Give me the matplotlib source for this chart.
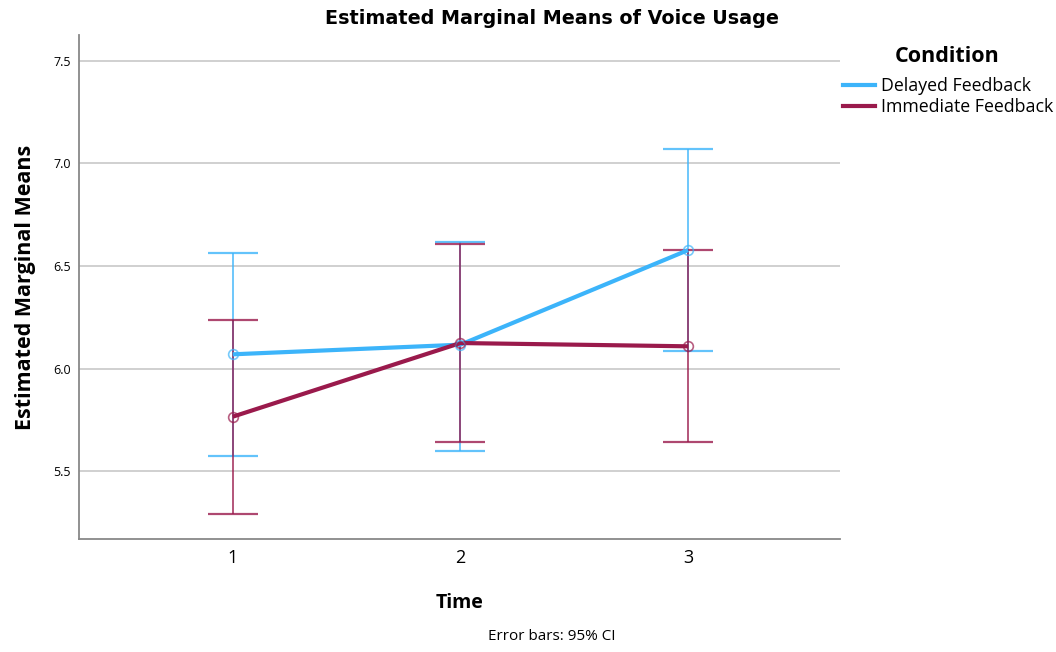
import matplotlib
matplotlib.use("Agg")
import matplotlib.pyplot as plt
from matplotlib.lines import Line2D

time_points = [1, 2, 3]
delayed_mean = [6.07, 6.117, 6.578]
delayed_low = [5.576, 5.60, 6.086]
delayed_high = [6.563, 6.615, 7.071]
immediate_mean = [5.766, 6.125, 6.109]
immediate_low = [5.294, 5.641, 5.641]
immediate_high = [6.237, 6.607, 6.58]
series_names = ["Delayed Feedback", "Immediate Feedback"]
y_ticks = [5.5, 6.0, 6.5, 7.0, 7.5]

blue = "#3cb4fa"
maroon = "#9a1a4c"

plt.rcParams['font.family'] = ['Open Sans', 'DejaVu Sans']

fig = plt.figure(figsize=(10.56, 6.52), dpi=100)
ax = fig.add_axes([0.0748, 0.1733, 0.7207, 0.773])

for mean, lo, hi, col in [(delayed_mean, delayed_low, delayed_high, blue),
                          (immediate_mean, immediate_low, immediate_high, maroon)]:
    yerr = [[m - l for m, l in zip(mean, lo)], [h - m for m, h in zip(mean, hi)]]
    ax.errorbar(time_points, mean, yerr=yerr, fmt='none', ecolor=col, alpha=0.8,
                elinewidth=1.3, capsize=18, capthick=1.6, zorder=3)
for mean, col in [(delayed_mean, blue), (immediate_mean, maroon)]:
    ax.plot(time_points, mean, color=col, lw=3.0, zorder=4, solid_capstyle='butt')
    ax.plot(time_points, mean, 'o', ms=7, mfc='none', mec=col, mew=1.2, alpha=0.7, zorder=5)

ax.set_xlim(0.325, 3.667)
ax.set_ylim(5.17, 7.626)
ax.set_xticks(time_points)
ax.set_xticklabels([str(t) for t in time_points], fontsize=13)
ax.set_yticks(y_ticks)
ax.set_yticklabels([f"{v:.1f}" for v in y_ticks], fontsize=9)
ax.tick_params(length=0, pad=6)
ax.tick_params(axis='x', pad=7)
ax.yaxis.grid(True, color='#c8c8c8', lw=1.2)
ax.set_axisbelow(True)
for s in ['top', 'right']:
    ax.spines[s].set_visible(False)
for s in ['left', 'bottom']:
    ax.spines[s].set_color('#888888')
    ax.spines[s].set_linewidth(1.3)

fig.text(552 / 1056, 1 - 19 / 652, "Estimated Marginal Means of Voice Usage", fontsize=13.8,
         fontweight='bold', ha='center', va='center', family=['DejaVu Sans'])
ax.set_xlabel("Time", fontsize=14, fontweight='bold', labelpad=19)
ax.set_ylabel("Estimated Marginal Means", fontsize=15.5, fontweight='bold', labelpad=12)
fig.text(552 / 1056, 1 - 637 / 652, "Error bars: 95% CI", fontsize=11, ha='center', va='center')

fig.text(947 / 1056, 1 - 56 / 652, "Condition", fontsize=15.5, fontweight='bold',
         ha='center', va='center')
handles = [Line2D([0], [0], color=blue, lw=3.0), Line2D([0], [0], color=maroon, lw=3.0)]
leg = fig.legend(handles, series_names, loc='upper left',
                 bbox_to_anchor=(843 / 1056, 1 - 77 / 652), frameon=False, fontsize=12.8,
                 handlelength=1.8, handletextpad=0.35, labelspacing=0.17,
                 borderpad=0, borderaxespad=0)

fig.savefig("out.png", dpi=100)
